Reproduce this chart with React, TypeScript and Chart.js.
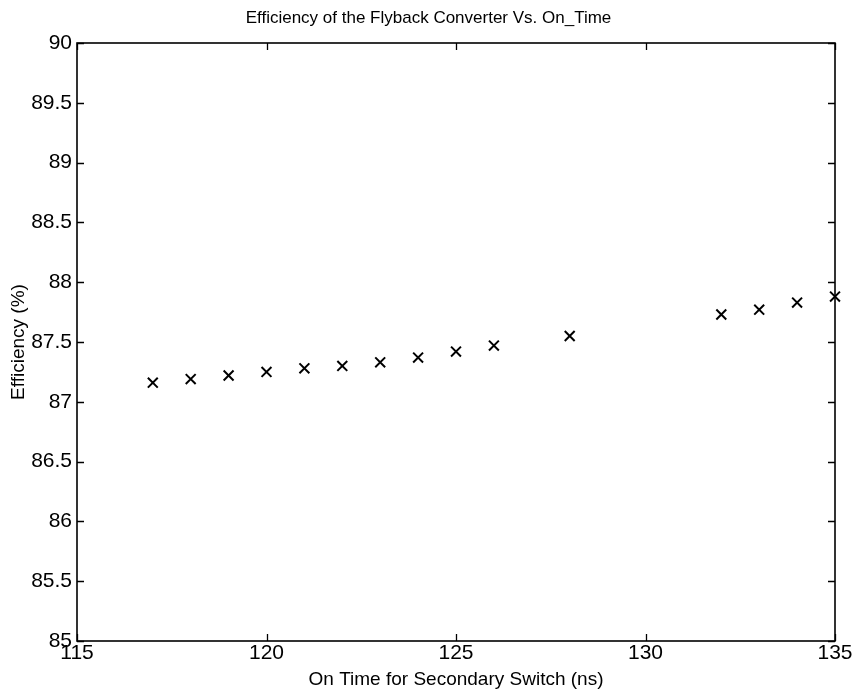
import React, { useEffect, useRef } from "react";
import { Chart, registerables } from "chart.js";

Chart.register(...registerables);

const onTimeNs = [117, 118, 119, 120, 121, 122, 123, 124, 125, 126, 128, 132, 133, 134, 135];
const efficiencyPct = [87.16, 87.19, 87.22, 87.25, 87.28, 87.3, 87.33, 87.37, 87.42, 87.47, 87.55, 87.73, 87.77, 87.83, 87.88];
const xTickValues = [115, 120, 125, 130, 135];
const yTickValues = [85, 85.5, 86, 86.5, 87, 87.5, 88, 88.5, 89, 89.5, 90];

const FONT = "'Liberation Sans', Arial, Helvetica, sans-serif";

const framePlugin = {
  id: "matlabFrame",
  afterDraw(chart: any) {
    const { ctx, chartArea } = chart;
    const { left, right, top, bottom } = chartArea;
    const x = chart.scales.x;
    const y = chart.scales.y;
    const len = 7;
    ctx.save();
    ctx.strokeStyle = "#000";
    ctx.lineWidth = 1.6;
    ctx.strokeRect(left, top, right - left, bottom - top);
    ctx.lineWidth = 1.3;
    ctx.beginPath();
    x.ticks.forEach((t: any) => {
      const px = Math.round(x.getPixelForValue(t.value)) + 0.5;
      ctx.moveTo(px, bottom);
      ctx.lineTo(px, bottom - len);
      ctx.moveTo(px, top);
      ctx.lineTo(px, top + len);
    });
    y.ticks.forEach((t: any) => {
      const py = Math.round(y.getPixelForValue(t.value)) + 0.5;
      ctx.moveTo(left, py);
      ctx.lineTo(left + len, py);
      ctx.moveTo(right, py);
      ctx.lineTo(right - len, py);
    });
    ctx.stroke();
    ctx.restore();
  },
};

export default function App() {
  const ref = useRef<HTMLCanvasElement | null>(null);

  useEffect(() => {
    document.body.style.margin = "0";
    const canvas = ref.current;
    if (!canvas) return;
    const chart = new Chart(canvas, {
      type: "scatter",
      data: {
        datasets: [
          {
            label: "Efficiency",
            data: onTimeNs.map((x, i) => ({ x, y: efficiencyPct[i] })),
            pointStyle: "crossRot",
            pointRadius: 7,
            pointBorderWidth: 2,
            borderColor: "#000",
            backgroundColor: "#000",
            clip: false,
          } as any,
        ],
      },
      options: {
        animation: false,
        responsive: false,
        layout: { padding: 0 },
        plugins: {
          legend: { display: false },
          tooltip: { enabled: false },
          title: {
            display: true,
            text: "Efficiency of the Flyback Converter Vs. On_Time",
            color: "#000",
            font: { family: FONT, size: 17, weight: "normal" },
            padding: { top: 8, bottom: 14.6 },
          },
        },
        scales: {
          x: {
            type: "linear",
            min: 115,
            max: 135,
            afterBuildTicks: (s: any) => {
              s.ticks = xTickValues.map((v) => ({ value: v }));
            },
            afterFit: (s: any) => {
              s.height = 55;
            },
            grid: { display: false, drawTicks: false },
            border: { display: false },
            ticks: {
              color: "#000",
              font: { family: FONT, size: 21 },
              padding: 0,
              maxRotation: 0,
              callback: (v: any) => String(v),
            },
            title: {
              display: true,
              text: "On Time for Secondary Switch (ns)",
              color: "#000",
              font: { family: FONT, size: 19 },
              padding: { top: 0, bottom: 5 },
            },
          },
          y: {
            type: "linear",
            min: 85,
            max: 90,
            afterBuildTicks: (s: any) => {
              s.ticks = yTickValues.map((v) => ({ value: v }));
            },
            afterFit: (s: any) => {
              s.width = 77;
            },
            grid: { display: false, drawTicks: false },
            border: { display: false },
            ticks: {
              color: "#000",
              font: { family: FONT, size: 21 },
              padding: 5,
              callback: (v: any) => String(Number(v)),
            },
            title: {
              display: true,
              text: "Efficiency (%)",
              color: "#000",
              font: { family: FONT, size: 19 },
              padding: { top: 7, bottom: 0 },
            },
          },
          y2: {
            type: "linear",
            position: "right",
            display: true,
            afterFit: (s: any) => {
              s.width = 22;
            },
            grid: { display: false, drawTicks: false },
            border: { display: false },
            ticks: { display: false },
          },
        },
      } as any,
      plugins: [framePlugin],
    });
    return () => chart.destroy();
  }, []);

  return (
    <div style={{ width: 857, height: 696, background: "#fff" }}>
      <canvas ref={ref} width={857} height={696} />
    </div>
  );
}
